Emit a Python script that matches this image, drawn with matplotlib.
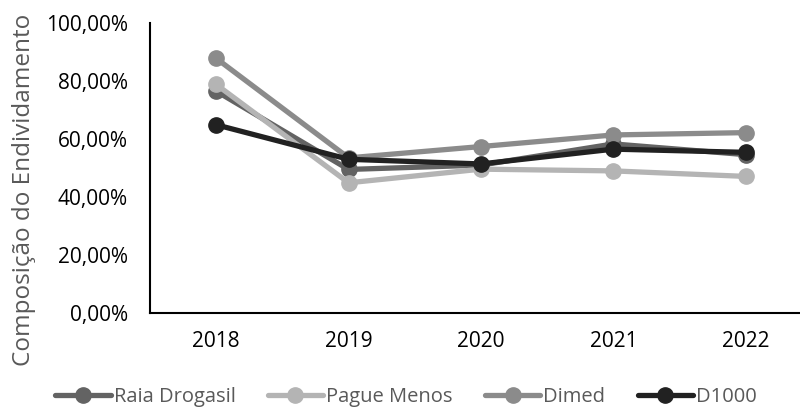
import matplotlib
matplotlib.use("Agg")
import matplotlib.pyplot as plt
from matplotlib.ticker import FuncFormatter

years = ["2018", "2019", "2020", "2021", "2022"]
raia = [76.5, 49.5, 51.0, 58.3, 54.6]
pague = [78.8, 44.9, 49.6, 49.0, 47.1]
dimed = [87.8, 53.5, 57.4, 61.4, 62.2]
d1000 = [64.9, 53.0, 51.4, 56.5, 55.4]

series = [("Raia Drogasil", raia, "#636363"),
          ("Pague Menos", pague, "#b4b4b4"),
          ("Dimed", dimed, "#8b8b8b"),
          ("D1000", d1000, "#212121")]

plt.rcParams['font.family'] = ['Open Sans', 'DejaVu Sans']
fig = plt.figure(figsize=(8, 4.08), dpi=100)
ax = fig.add_axes([150/800, 1-313/408, 650/800, 290/408])

x = list(range(len(years)))
for name, vals, col in series:
    ax.plot(x, vals, color=col, lw=3.8, marker='o', ms=11, label=name,
            solid_capstyle='round')

ax.set_ylim(0, 100)
ax.set_xlim(-0.5, 4.5 - 12/132.5)
ax.set_yticks([0, 20, 40, 60, 80, 100])
ax.yaxis.set_major_formatter(FuncFormatter(lambda v, p: f"{v:.2f}".replace('.', ',') + "%"))
ax.set_xticks(x)
ax.set_xticklabels(years)
ax.tick_params(axis='both', length=0, labelsize=15, colors='#000000')
ax.tick_params(axis='y', pad=16)
ax.tick_params(axis='x', pad=13)
for s in ['top', 'right']:
    ax.spines[s].set_visible(False)
for s in ['left', 'bottom']:
    ax.spines[s].set_linewidth(1.5)
    ax.spines[s].set_color('#000000')

fig.text(24/800, 1-190/408, "Composição do Endividamento", rotation=90,
         ha='center', va='center', fontsize=17.5, color='#595959')

leg = fig.legend(loc='center', bbox_to_anchor=(406/800, 1-397/408), ncol=4, frameon=False,
                 fontsize=14.5, handlelength=2.75, columnspacing=1.6, handletextpad=0.15,
                 borderaxespad=0, borderpad=0)
for t in leg.get_texts():
    t.set_color('#595959')

fig.savefig("out.png", dpi=100)
